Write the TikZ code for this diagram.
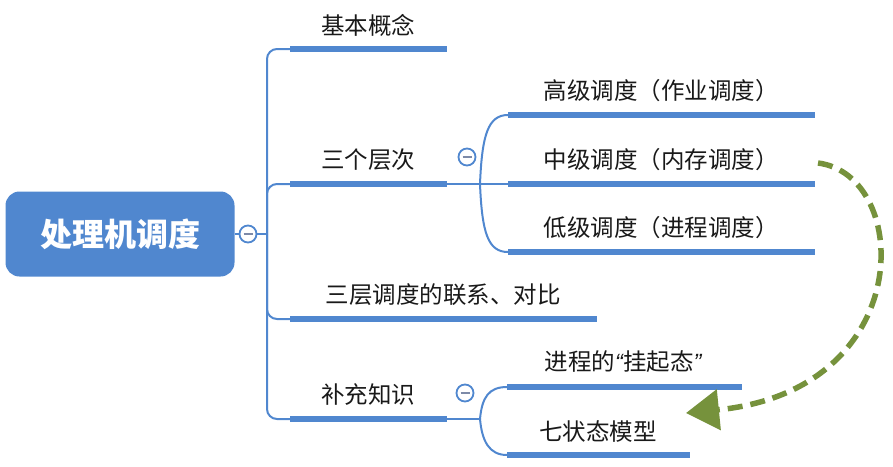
\documentclass[tikz,border=0pt]{standalone}
\usepackage{fontspec}
\newfontfamily\cjk{Noto Sans CJK SC}
\newfontfamily\latinq{Liberation Sans}
\usetikzlibrary{arrows.meta}
\definecolor{mmblue}{RGB}{80,135,207}
\definecolor{mmgreen}{RGB}{118,146,60}
\definecolor{mmtext}{RGB}{25,25,25}
\definecolor{mmminus}{RGB}{125,138,168}
\tikzset{
 rootbox/.style={draw=none,fill=mmblue,rounded corners=14pt,minimum width=229pt,minimum height=85pt,text=white,font=\cjk\bfseries\fontsize{32}{36}\selectfont},
 lab/.style={text=mmtext,font=\cjk\fontsize{23.5}{28}\selectfont,inner sep=0pt},
 underline/.style={draw=mmblue,line width=6pt},
 conn/.style={draw=mmblue,line width=2pt},
 collapse/.style={circle,draw=mmblue,line width=1.8pt,fill=white,minimum size=17pt,inner sep=0pt},
 minus/.style={draw=mmminus,line width=2pt},
 flow/.style={draw=mmgreen,line width=5.5pt,dash pattern=on 15pt off 8pt,-{Triangle[length=33pt,width=40pt]}}
}
\begin{document}
\begin{tikzpicture}[x=1pt,y=-1pt]
\useasboundingbox (0,0) rectangle (893,466);
% root
\node[rootbox] (root) at (120,234) {处理机调度};
\node[collapse] (c0) at (248,234) {};
\draw[minus] ([xshift=-4.5pt]c0.center) -- ([xshift=4.5pt]c0.center);
\coordinate (j0) at (267,234);
\draw[conn] (root.east) -- (c0.west);
\draw[conn] (c0.east) -- (j0);
% level 1 underlines
\coordinate (b1l) at (290,49);  \coordinate (b1r) at (447,49);
\coordinate (b2l) at (290,184); \coordinate (b2r) at (447,184);
\coordinate (b3l) at (290,319); \coordinate (b3r) at (597,319);
\coordinate (b4l) at (290,419); \coordinate (b4r) at (447,419);
\draw[conn,rounded corners=10pt] (j0) |- (b1l);
\draw[conn,rounded corners=10pt] (j0) |- (b2l);
\draw[conn,rounded corners=10pt] (j0) |- (b3l);
\draw[conn,rounded corners=10pt] (j0) |- (b4l);
\draw[underline] (b1l) -- (b1r);
\draw[underline] (b2l) -- (b2r);
\draw[underline] (b3l) -- (b3r);
\draw[underline] (b4l) -- (b4r);
\node[lab] (t1) at (368,25) {基本概念};
\node[lab] (t2) at (368,160) {三个层次};
\node[lab] (t3) at (443,295) {三层调度的联系、对比};
\node[lab] (t4) at (368,395) {补充知识};
% sub branch of 三个层次
\node[collapse] (c1) at (467,157) {};
\draw[minus] ([xshift=-4.5pt]c1.center) -- ([xshift=4.5pt]c1.center);
\coordinate (j1) at (480,184);
\coordinate (s1l) at (508,115); \coordinate (s1r) at (815,115);
\coordinate (s2l) at (508,184); \coordinate (s2r) at (815,184);
\coordinate (s3l) at (508,252); \coordinate (s3r) at (815,252);
\draw[conn] (b2r) -- (j1);
\draw[conn] (j1) .. controls (482,135) and (488,115) .. (s1l);
\draw[conn] (j1) -- (s2l);
\draw[conn] (j1) .. controls (482,233) and (488,252) .. (s3l);
\draw[underline] (s1l) -- (s1r);
\draw[underline] (s2l) -- (s2r);
\draw[underline] (s3l) -- (s3r);
\node[lab] (s1) at (661,91) {高级调度（作业调度）};
\node[lab] (s2) at (661,160) {中级调度（内存调度）};
\node[lab] (s3) at (661,228) {低级调度（进程调度）};
% sub branch of 补充知识
\node[collapse] (c2) at (465,393) {};
\draw[minus] ([xshift=-4.5pt]c2.center) -- ([xshift=4.5pt]c2.center);
\coordinate (j2) at (480,419);
\coordinate (u1l) at (507,387); \coordinate (u1r) at (742,387);
\coordinate (u2l) at (507,455); \coordinate (u2r) at (690,455);
\draw[conn] (b4r) -- (j2);
\draw[conn] (j2) .. controls (482,397) and (489,387) .. (u1l);
\draw[conn] (j2) .. controls (482,441) and (489,455) .. (u2l);
\draw[underline] (u1l) -- (u1r);
\draw[underline] (u2l) -- (u2r);
\node[lab] (u1) at (623,362) {进程的{\latinq\itshape “}挂起态{\latinq\itshape ”}};
\node[lab] (u2) at (598,432) {七状态模型};
% green dashed arrow
\coordinate (a0) at (818,163);
\coordinate (a1) at (686,413);
\draw[flow] (a0) .. controls (912,175) and (918,390) .. (a1);
\end{tikzpicture}
\end{document}
